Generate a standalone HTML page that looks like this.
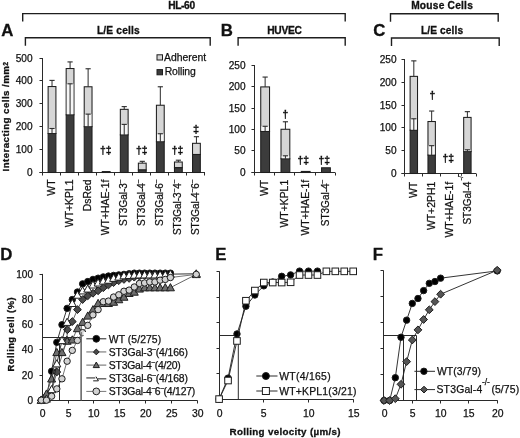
<!DOCTYPE html>
<html><head><meta charset="utf-8"><style>
html,body{margin:0;padding:0;background:#fff;}
svg{display:block;font-family:"Liberation Sans", sans-serif;}
svg{will-change:transform;}
#w{width:520px;height:438px;}
</style></head><body><div id="w">
<svg width="520" height="438" viewBox="0 0 520 438">
<rect width="520" height="438" fill="#fff"/>
<text x="181.65" y="8.50" font-size="10.2" text-anchor="middle" font-weight="bold" fill="#111" stroke="#111" stroke-width="0.3" textLength="26.90" lengthAdjust="spacing">HL-60</text>
<path d="M22.70 21.60 V13.60 H345.20 V21.60" fill="none" stroke="#1e1e1e" stroke-width="1.4"/>
<text x="442.00" y="8.50" font-size="10.2" text-anchor="middle" font-weight="bold" fill="#111" stroke="#111" stroke-width="0.3" textLength="61.70" lengthAdjust="spacing">Mouse Cells</text>
<path d="M390.50 21.70 V13.70 H498.20 V21.70" fill="none" stroke="#1e1e1e" stroke-width="1.4"/>
<text x="118.30" y="34.30" font-size="10.2" text-anchor="middle" font-weight="bold" fill="#111" stroke="#111" stroke-width="0.3" textLength="42.80" lengthAdjust="spacing">L/E cells</text>
<path d="M25.40 45.80 V37.80 H210.20 V45.80" fill="none" stroke="#1e1e1e" stroke-width="1.4"/>
<text x="284.50" y="34.00" font-size="10.2" text-anchor="middle" font-weight="bold" fill="#111" stroke="#111" stroke-width="0.3" textLength="34.60" lengthAdjust="spacing">HUVEC</text>
<path d="M238.10 45.80 V37.80 H345.20 V45.80" fill="none" stroke="#1e1e1e" stroke-width="1.4"/>
<text x="442.00" y="34.40" font-size="10.2" text-anchor="middle" font-weight="bold" fill="#111" stroke="#111" stroke-width="0.3" textLength="42.10" lengthAdjust="spacing">L/E cells</text>
<path d="M391.50 46.00 V38.00 H499.20 V46.00" fill="none" stroke="#1e1e1e" stroke-width="1.4"/>
<text x="1.20" y="35.70" font-size="16.8" text-anchor="start" font-weight="bold" fill="#111" stroke="#111" stroke-width="0.3">A</text>
<text x="220.80" y="35.70" font-size="16.8" text-anchor="start" font-weight="bold" fill="#111" stroke="#111" stroke-width="0.3">B</text>
<text x="373.20" y="35.50" font-size="16.8" text-anchor="start" font-weight="bold" fill="#111" stroke="#111" stroke-width="0.3">C</text>
<text x="0.30" y="259.80" font-size="16.8" text-anchor="start" font-weight="bold" fill="#111" stroke="#111" stroke-width="0.3">D</text>
<text x="215.30" y="259.80" font-size="16.8" text-anchor="start" font-weight="bold" fill="#111" stroke="#111" stroke-width="0.3">E</text>
<text x="372.80" y="259.60" font-size="16.8" text-anchor="start" font-weight="bold" fill="#111" stroke="#111" stroke-width="0.3">F</text>
<line x1="42.50" y1="58.00" x2="42.50" y2="175.50" stroke="#2a2a2a" stroke-width="1"/>
<line x1="39.50" y1="172.50" x2="42.50" y2="172.50" stroke="#2a2a2a" stroke-width="1"/>
<text x="32.60" y="175.80" font-size="10.1" text-anchor="end" font-weight="normal" fill="#111" stroke="#111" stroke-width="0.25">0</text>
<line x1="39.50" y1="149.50" x2="42.50" y2="149.50" stroke="#2a2a2a" stroke-width="1"/>
<text x="32.60" y="152.80" font-size="10.1" text-anchor="end" font-weight="normal" fill="#111" stroke="#111" stroke-width="0.25">100</text>
<line x1="39.50" y1="126.50" x2="42.50" y2="126.50" stroke="#2a2a2a" stroke-width="1"/>
<text x="32.60" y="129.80" font-size="10.1" text-anchor="end" font-weight="normal" fill="#111" stroke="#111" stroke-width="0.25">200</text>
<line x1="39.50" y1="103.50" x2="42.50" y2="103.50" stroke="#2a2a2a" stroke-width="1"/>
<text x="32.60" y="106.80" font-size="10.1" text-anchor="end" font-weight="normal" fill="#111" stroke="#111" stroke-width="0.25">300</text>
<line x1="39.50" y1="80.50" x2="42.50" y2="80.50" stroke="#2a2a2a" stroke-width="1"/>
<text x="32.60" y="83.80" font-size="10.1" text-anchor="end" font-weight="normal" fill="#111" stroke="#111" stroke-width="0.25">400</text>
<line x1="39.50" y1="58.50" x2="42.50" y2="58.50" stroke="#2a2a2a" stroke-width="1"/>
<text x="32.60" y="61.80" font-size="10.1" text-anchor="end" font-weight="normal" fill="#111" stroke="#111" stroke-width="0.25">500</text>
<line x1="39.50" y1="172.50" x2="205.00" y2="172.50" stroke="#2a2a2a" stroke-width="1"/>
<line x1="60.50" y1="172.50" x2="60.50" y2="175.50" stroke="#2a2a2a" stroke-width="1"/>
<line x1="78.50" y1="172.50" x2="78.50" y2="175.50" stroke="#2a2a2a" stroke-width="1"/>
<line x1="96.50" y1="172.50" x2="96.50" y2="175.50" stroke="#2a2a2a" stroke-width="1"/>
<line x1="114.50" y1="172.50" x2="114.50" y2="175.50" stroke="#2a2a2a" stroke-width="1"/>
<line x1="132.50" y1="172.50" x2="132.50" y2="175.50" stroke="#2a2a2a" stroke-width="1"/>
<line x1="150.50" y1="172.50" x2="150.50" y2="175.50" stroke="#2a2a2a" stroke-width="1"/>
<line x1="168.50" y1="172.50" x2="168.50" y2="175.50" stroke="#2a2a2a" stroke-width="1"/>
<line x1="186.50" y1="172.50" x2="186.50" y2="175.50" stroke="#2a2a2a" stroke-width="1"/>
<line x1="204.50" y1="172.50" x2="204.50" y2="175.50" stroke="#2a2a2a" stroke-width="1"/>
<line x1="52.02" y1="80.39" x2="52.02" y2="86.54" stroke="#2a2a2a" stroke-width="1"/>
<line x1="49.42" y1="80.39" x2="54.62" y2="80.39" stroke="#2a2a2a" stroke-width="1.1"/>
<rect x="48.12" y="86.54" width="7.8" height="46.97" fill="#d6d6d6" stroke="#1e1e1e" stroke-width="1.05"/>
<rect x="48.12" y="133.51" width="7.8" height="38.99" fill="#3c3c3c" stroke="#1e1e1e" stroke-width="1.05"/>
<rect x="48.73" y="128.50" width="6.60" height="4.52" fill="#f6f6f6"/>
<line x1="52.02" y1="128.50" x2="52.02" y2="133.51" stroke="#2a2a2a" stroke-width="1"/>
<line x1="49.42" y1="128.50" x2="54.62" y2="128.50" stroke="#2a2a2a" stroke-width="1.1"/>
<line x1="70.08" y1="61.92" x2="70.08" y2="68.53" stroke="#2a2a2a" stroke-width="1"/>
<line x1="67.48" y1="61.92" x2="72.67" y2="61.92" stroke="#2a2a2a" stroke-width="1.1"/>
<rect x="66.17" y="68.53" width="7.8" height="46.28" fill="#d6d6d6" stroke="#1e1e1e" stroke-width="1.05"/>
<rect x="66.17" y="114.82" width="7.8" height="57.68" fill="#3c3c3c" stroke="#1e1e1e" stroke-width="1.05"/>
<rect x="66.77" y="83.81" width="6.60" height="30.51" fill="#f6f6f6"/>
<line x1="70.08" y1="83.81" x2="70.08" y2="114.82" stroke="#2a2a2a" stroke-width="1"/>
<line x1="67.48" y1="83.81" x2="72.67" y2="83.81" stroke="#2a2a2a" stroke-width="1.1"/>
<line x1="88.12" y1="68.76" x2="88.12" y2="86.77" stroke="#2a2a2a" stroke-width="1"/>
<line x1="85.53" y1="68.76" x2="90.72" y2="68.76" stroke="#2a2a2a" stroke-width="1.1"/>
<rect x="84.22" y="86.77" width="7.8" height="39.90" fill="#d6d6d6" stroke="#1e1e1e" stroke-width="1.05"/>
<rect x="84.22" y="126.67" width="7.8" height="45.83" fill="#3c3c3c" stroke="#1e1e1e" stroke-width="1.05"/>
<rect x="84.82" y="114.13" width="6.60" height="12.04" fill="#f6f6f6"/>
<line x1="88.12" y1="114.13" x2="88.12" y2="126.67" stroke="#2a2a2a" stroke-width="1"/>
<line x1="85.53" y1="114.13" x2="90.72" y2="114.13" stroke="#2a2a2a" stroke-width="1.1"/>
<rect x="102.27" y="171.59" width="7.8" height="0.91" fill="#3c3c3c" stroke="#1e1e1e" stroke-width="1.05"/>
<line x1="124.23" y1="106.61" x2="124.23" y2="109.34" stroke="#2a2a2a" stroke-width="1"/>
<line x1="121.63" y1="106.61" x2="126.83" y2="106.61" stroke="#2a2a2a" stroke-width="1.1"/>
<rect x="120.33" y="109.34" width="7.8" height="25.54" fill="#d6d6d6" stroke="#1e1e1e" stroke-width="1.05"/>
<rect x="120.33" y="134.88" width="7.8" height="37.62" fill="#3c3c3c" stroke="#1e1e1e" stroke-width="1.05"/>
<rect x="120.92" y="124.39" width="6.60" height="9.99" fill="#f6f6f6"/>
<line x1="124.23" y1="124.39" x2="124.23" y2="134.88" stroke="#2a2a2a" stroke-width="1"/>
<line x1="121.63" y1="124.39" x2="126.83" y2="124.39" stroke="#2a2a2a" stroke-width="1.1"/>
<line x1="142.27" y1="161.33" x2="142.27" y2="163.15" stroke="#2a2a2a" stroke-width="1"/>
<line x1="139.67" y1="161.33" x2="144.87" y2="161.33" stroke="#2a2a2a" stroke-width="1.1"/>
<rect x="138.37" y="163.15" width="7.8" height="6.84" fill="#d6d6d6" stroke="#1e1e1e" stroke-width="1.05"/>
<rect x="138.37" y="169.99" width="7.8" height="2.51" fill="#3c3c3c" stroke="#1e1e1e" stroke-width="1.05"/>
<line x1="160.32" y1="86.77" x2="160.32" y2="105.24" stroke="#2a2a2a" stroke-width="1"/>
<line x1="157.72" y1="86.77" x2="162.92" y2="86.77" stroke="#2a2a2a" stroke-width="1.1"/>
<rect x="156.42" y="105.24" width="7.8" height="36.48" fill="#d6d6d6" stroke="#1e1e1e" stroke-width="1.05"/>
<rect x="156.42" y="141.72" width="7.8" height="30.78" fill="#3c3c3c" stroke="#1e1e1e" stroke-width="1.05"/>
<rect x="157.02" y="133.74" width="6.60" height="7.48" fill="#f6f6f6"/>
<line x1="160.32" y1="133.74" x2="160.32" y2="141.72" stroke="#2a2a2a" stroke-width="1"/>
<line x1="157.72" y1="133.74" x2="162.92" y2="133.74" stroke="#2a2a2a" stroke-width="1.1"/>
<line x1="178.38" y1="160.19" x2="178.38" y2="162.01" stroke="#2a2a2a" stroke-width="1"/>
<line x1="175.78" y1="160.19" x2="180.97" y2="160.19" stroke="#2a2a2a" stroke-width="1.1"/>
<rect x="174.47" y="162.01" width="7.8" height="5.70" fill="#d6d6d6" stroke="#1e1e1e" stroke-width="1.05"/>
<rect x="174.47" y="167.71" width="7.8" height="4.79" fill="#3c3c3c" stroke="#1e1e1e" stroke-width="1.05"/>
<line x1="196.43" y1="136.70" x2="196.43" y2="143.32" stroke="#2a2a2a" stroke-width="1"/>
<line x1="193.83" y1="136.70" x2="199.03" y2="136.70" stroke="#2a2a2a" stroke-width="1.1"/>
<rect x="192.53" y="143.32" width="7.8" height="11.17" fill="#d6d6d6" stroke="#1e1e1e" stroke-width="1.05"/>
<rect x="192.53" y="154.49" width="7.8" height="18.01" fill="#3c3c3c" stroke="#1e1e1e" stroke-width="1.05"/>
<text x="54.82" y="179.50" font-size="10.4" text-anchor="end" font-weight="normal" fill="#111" stroke="#111" stroke-width="0.25" transform="rotate(-90 54.82 179.50)">WT</text>
<text x="72.88" y="179.50" font-size="10.4" text-anchor="end" font-weight="normal" fill="#111" stroke="#111" stroke-width="0.25" transform="rotate(-90 72.88 179.50)">WT+KPL1</text>
<text x="90.92" y="179.50" font-size="10.4" text-anchor="end" font-weight="normal" fill="#111" stroke="#111" stroke-width="0.25" transform="rotate(-90 90.92 179.50)">DsRed</text>
<text x="108.97" y="179.50" font-size="10.4" text-anchor="end" font-weight="normal" fill="#111" stroke="#111" stroke-width="0.25" transform="rotate(-90 108.97 179.50)">WT+HAE-1f</text>
<text x="127.03" y="179.50" font-size="10.0" text-anchor="end" font-weight="normal" fill="#111" stroke="#111" stroke-width="0.25" transform="rotate(-90 127.03 179.50)">ST3Gal-3<tspan font-size="6.5" dy="-4.8">&#8211;</tspan><tspan dy="4.8">&#8203;</tspan></text>
<text x="145.07" y="179.50" font-size="10.0" text-anchor="end" font-weight="normal" fill="#111" stroke="#111" stroke-width="0.25" transform="rotate(-90 145.07 179.50)">ST3Gal-4<tspan font-size="6.5" dy="-4.8">&#8211;</tspan><tspan dy="4.8">&#8203;</tspan></text>
<text x="163.12" y="179.50" font-size="10.0" text-anchor="end" font-weight="normal" fill="#111" stroke="#111" stroke-width="0.25" transform="rotate(-90 163.12 179.50)">ST3Gal-6<tspan font-size="6.5" dy="-4.8">&#8211;</tspan><tspan dy="4.8">&#8203;</tspan></text>
<text x="181.18" y="179.50" font-size="10.0" text-anchor="end" font-weight="normal" fill="#111" stroke="#111" stroke-width="0.25" transform="rotate(-90 181.18 179.50)">ST3Gal-3<tspan font-size="6.5" dy="-4.8">&#8211;</tspan><tspan dy="4.8">&#8203;</tspan>4<tspan font-size="6.5" dy="-4.8">&#8211;</tspan><tspan dy="4.8">&#8203;</tspan></text>
<text x="199.23" y="179.50" font-size="10.0" text-anchor="end" font-weight="normal" fill="#111" stroke="#111" stroke-width="0.25" transform="rotate(-90 199.23 179.50)">ST3Gal-4<tspan font-size="6.5" dy="-4.8">&#8211;</tspan><tspan dy="4.8">&#8203;</tspan>6<tspan font-size="6.5" dy="-4.8">&#8211;</tspan><tspan dy="4.8">&#8203;</tspan></text>
<text x="9.30" y="116.70" font-size="9.7" text-anchor="middle" font-weight="bold" fill="#111" stroke="#111" stroke-width="0.3" transform="rotate(-90 9.30 116.70)" textLength="109.50" lengthAdjust="spacing">Interacting cells /mm<tspan font-size="6.8" dy="-1.6">2</tspan></text>
<rect x="157" y="54.8" width="5.5" height="5.2" fill="#d6d6d6" stroke="#1e1e1e" stroke-width="1"/>
<text x="164.10" y="60.80" font-size="10.4" text-anchor="start" font-weight="normal" fill="#111" stroke="#111" stroke-width="0.25" textLength="42.10" lengthAdjust="spacing">Adherent</text>
<rect x="157" y="69.6" width="5.5" height="5.2" fill="#3c3c3c" stroke="#1e1e1e" stroke-width="1"/>
<text x="164.70" y="74.90" font-size="10.4" text-anchor="start" font-weight="normal" fill="#111" stroke="#111" stroke-width="0.25" textLength="31.10" lengthAdjust="spacing">Rolling</text>
<text x="105.80" y="153.80" font-size="10.4" text-anchor="middle" font-weight="bold" fill="#111" stroke="#111" stroke-width="0.3">&#8224;&#8225;</text>
<text x="141.80" y="153.80" font-size="10.4" text-anchor="middle" font-weight="bold" fill="#111" stroke="#111" stroke-width="0.3">&#8224;&#8225;</text>
<text x="177.60" y="153.80" font-size="10.4" text-anchor="middle" font-weight="bold" fill="#111" stroke="#111" stroke-width="0.3">&#8224;&#8225;</text>
<text x="196.10" y="132.60" font-size="11" text-anchor="middle" font-weight="bold" fill="#111" stroke="#111" stroke-width="0.3">&#8225;</text>
<line x1="254.50" y1="65.00" x2="254.50" y2="175.50" stroke="#2a2a2a" stroke-width="1"/>
<line x1="251.50" y1="172.50" x2="254.50" y2="172.50" stroke="#2a2a2a" stroke-width="1"/>
<text x="245.60" y="175.80" font-size="10.1" text-anchor="end" font-weight="normal" fill="#111" stroke="#111" stroke-width="0.25">0</text>
<line x1="251.50" y1="150.50" x2="254.50" y2="150.50" stroke="#2a2a2a" stroke-width="1"/>
<text x="245.60" y="153.80" font-size="10.1" text-anchor="end" font-weight="normal" fill="#111" stroke="#111" stroke-width="0.25">50</text>
<line x1="251.50" y1="129.50" x2="254.50" y2="129.50" stroke="#2a2a2a" stroke-width="1"/>
<text x="245.60" y="132.80" font-size="10.1" text-anchor="end" font-weight="normal" fill="#111" stroke="#111" stroke-width="0.25">100</text>
<line x1="251.50" y1="108.50" x2="254.50" y2="108.50" stroke="#2a2a2a" stroke-width="1"/>
<text x="245.60" y="111.80" font-size="10.1" text-anchor="end" font-weight="normal" fill="#111" stroke="#111" stroke-width="0.25">150</text>
<line x1="251.50" y1="86.50" x2="254.50" y2="86.50" stroke="#2a2a2a" stroke-width="1"/>
<text x="245.60" y="89.80" font-size="10.1" text-anchor="end" font-weight="normal" fill="#111" stroke="#111" stroke-width="0.25">200</text>
<line x1="251.50" y1="65.50" x2="254.50" y2="65.50" stroke="#2a2a2a" stroke-width="1"/>
<text x="245.60" y="68.80" font-size="10.1" text-anchor="end" font-weight="normal" fill="#111" stroke="#111" stroke-width="0.25">250</text>
<line x1="251.50" y1="172.50" x2="335.00" y2="172.50" stroke="#2a2a2a" stroke-width="1"/>
<line x1="274.50" y1="172.50" x2="274.50" y2="175.50" stroke="#2a2a2a" stroke-width="1"/>
<line x1="294.50" y1="172.50" x2="294.50" y2="175.50" stroke="#2a2a2a" stroke-width="1"/>
<line x1="315.50" y1="172.50" x2="315.50" y2="175.50" stroke="#2a2a2a" stroke-width="1"/>
<line x1="335.50" y1="172.50" x2="335.50" y2="175.50" stroke="#2a2a2a" stroke-width="1"/>
<line x1="265.14" y1="77.06" x2="265.14" y2="86.90" stroke="#2a2a2a" stroke-width="1"/>
<line x1="262.54" y1="77.06" x2="267.74" y2="77.06" stroke="#2a2a2a" stroke-width="1.1"/>
<rect x="260.74" y="86.90" width="8.8" height="44.51" fill="#d6d6d6" stroke="#1e1e1e" stroke-width="1.05"/>
<rect x="260.74" y="131.41" width="8.8" height="41.09" fill="#3c3c3c" stroke="#1e1e1e" stroke-width="1.05"/>
<rect x="261.34" y="126.28" width="7.60" height="4.64" fill="#f6f6f6"/>
<line x1="265.14" y1="126.28" x2="265.14" y2="131.41" stroke="#2a2a2a" stroke-width="1"/>
<line x1="262.54" y1="126.28" x2="267.74" y2="126.28" stroke="#2a2a2a" stroke-width="1.1"/>
<line x1="285.41" y1="121.78" x2="285.41" y2="129.27" stroke="#2a2a2a" stroke-width="1"/>
<line x1="282.81" y1="121.78" x2="288.01" y2="121.78" stroke="#2a2a2a" stroke-width="1.1"/>
<rect x="281.01" y="129.27" width="8.8" height="29.53" fill="#d6d6d6" stroke="#1e1e1e" stroke-width="1.05"/>
<rect x="281.01" y="158.80" width="8.8" height="13.70" fill="#3c3c3c" stroke="#1e1e1e" stroke-width="1.05"/>
<rect x="281.61" y="155.81" width="7.60" height="2.50" fill="#f6f6f6"/>
<line x1="285.41" y1="155.81" x2="285.41" y2="158.80" stroke="#2a2a2a" stroke-width="1"/>
<line x1="282.81" y1="155.81" x2="288.01" y2="155.81" stroke="#2a2a2a" stroke-width="1.1"/>
<rect x="301.28" y="171.43" width="8.8" height="1.07" fill="#3c3c3c" stroke="#1e1e1e" stroke-width="1.05"/>
<rect x="321.55" y="167.79" width="8.8" height="4.71" fill="#3c3c3c" stroke="#1e1e1e" stroke-width="1.05"/>
<text x="268.04" y="179.80" font-size="10.4" text-anchor="end" font-weight="normal" fill="#111" stroke="#111" stroke-width="0.25" transform="rotate(-90 268.04 179.80)">WT</text>
<text x="288.31" y="179.80" font-size="10.4" text-anchor="end" font-weight="normal" fill="#111" stroke="#111" stroke-width="0.25" transform="rotate(-90 288.31 179.80)">WT+KPL1</text>
<text x="308.57" y="179.80" font-size="10.4" text-anchor="end" font-weight="normal" fill="#111" stroke="#111" stroke-width="0.25" transform="rotate(-90 308.57 179.80)">WT+HAE-1f</text>
<text x="328.85" y="179.80" font-size="10.0" text-anchor="end" font-weight="normal" fill="#111" stroke="#111" stroke-width="0.25" transform="rotate(-90 328.85 179.80)">ST3Gal-4<tspan font-size="6.5" dy="-4.8">&#8211;</tspan><tspan dy="4.8">&#8203;</tspan></text>
<text x="285.50" y="117.60" font-size="10.4" text-anchor="middle" font-weight="bold" fill="#111" stroke="#111" stroke-width="0.3">&#8224;</text>
<text x="303.20" y="163.60" font-size="10.4" text-anchor="middle" font-weight="bold" fill="#111" stroke="#111" stroke-width="0.3">&#8224;&#8225;</text>
<text x="324.20" y="163.60" font-size="10.4" text-anchor="middle" font-weight="bold" fill="#111" stroke="#111" stroke-width="0.3">&#8224;&#8225;</text>
<line x1="404.50" y1="59.00" x2="404.50" y2="176.50" stroke="#2a2a2a" stroke-width="1"/>
<line x1="401.50" y1="173.50" x2="404.50" y2="173.50" stroke="#2a2a2a" stroke-width="1"/>
<text x="396.60" y="176.80" font-size="10.1" text-anchor="end" font-weight="normal" fill="#111" stroke="#111" stroke-width="0.25">0</text>
<line x1="401.50" y1="150.50" x2="404.50" y2="150.50" stroke="#2a2a2a" stroke-width="1"/>
<text x="396.60" y="153.80" font-size="10.1" text-anchor="end" font-weight="normal" fill="#111" stroke="#111" stroke-width="0.25">50</text>
<line x1="401.50" y1="127.50" x2="404.50" y2="127.50" stroke="#2a2a2a" stroke-width="1"/>
<text x="396.60" y="130.80" font-size="10.1" text-anchor="end" font-weight="normal" fill="#111" stroke="#111" stroke-width="0.25">100</text>
<line x1="401.50" y1="105.50" x2="404.50" y2="105.50" stroke="#2a2a2a" stroke-width="1"/>
<text x="396.60" y="108.80" font-size="10.1" text-anchor="end" font-weight="normal" fill="#111" stroke="#111" stroke-width="0.25">150</text>
<line x1="401.50" y1="82.50" x2="404.50" y2="82.50" stroke="#2a2a2a" stroke-width="1"/>
<text x="396.60" y="85.80" font-size="10.1" text-anchor="end" font-weight="normal" fill="#111" stroke="#111" stroke-width="0.25">200</text>
<line x1="401.50" y1="59.50" x2="404.50" y2="59.50" stroke="#2a2a2a" stroke-width="1"/>
<text x="396.60" y="62.80" font-size="10.1" text-anchor="end" font-weight="normal" fill="#111" stroke="#111" stroke-width="0.25">250</text>
<line x1="401.50" y1="173.50" x2="476.00" y2="173.50" stroke="#2a2a2a" stroke-width="1"/>
<line x1="422.50" y1="173.50" x2="422.50" y2="176.50" stroke="#2a2a2a" stroke-width="1"/>
<line x1="440.50" y1="173.50" x2="440.50" y2="176.50" stroke="#2a2a2a" stroke-width="1"/>
<line x1="458.50" y1="173.50" x2="458.50" y2="176.50" stroke="#2a2a2a" stroke-width="1"/>
<line x1="476.50" y1="173.50" x2="476.50" y2="176.50" stroke="#2a2a2a" stroke-width="1"/>
<line x1="413.82" y1="60.87" x2="413.82" y2="76.37" stroke="#2a2a2a" stroke-width="1"/>
<line x1="411.22" y1="60.87" x2="416.43" y2="60.87" stroke="#2a2a2a" stroke-width="1.1"/>
<rect x="410.12" y="76.37" width="7.4" height="53.81" fill="#d6d6d6" stroke="#1e1e1e" stroke-width="1.05"/>
<rect x="410.12" y="130.18" width="7.4" height="43.32" fill="#3c3c3c" stroke="#1e1e1e" stroke-width="1.05"/>
<rect x="410.73" y="118.78" width="6.20" height="10.90" fill="#f6f6f6"/>
<line x1="413.82" y1="118.78" x2="413.82" y2="130.18" stroke="#2a2a2a" stroke-width="1"/>
<line x1="411.22" y1="118.78" x2="416.43" y2="118.78" stroke="#2a2a2a" stroke-width="1.1"/>
<line x1="431.67" y1="111.03" x2="431.67" y2="121.52" stroke="#2a2a2a" stroke-width="1"/>
<line x1="429.07" y1="111.03" x2="434.27" y2="111.03" stroke="#2a2a2a" stroke-width="1.1"/>
<rect x="427.97" y="121.52" width="7.4" height="33.56" fill="#d6d6d6" stroke="#1e1e1e" stroke-width="1.05"/>
<rect x="427.97" y="155.08" width="7.4" height="18.42" fill="#3c3c3c" stroke="#1e1e1e" stroke-width="1.05"/>
<rect x="428.57" y="145.68" width="6.20" height="8.89" fill="#f6f6f6"/>
<line x1="431.67" y1="145.68" x2="431.67" y2="155.08" stroke="#2a2a2a" stroke-width="1"/>
<line x1="429.07" y1="145.68" x2="434.27" y2="145.68" stroke="#2a2a2a" stroke-width="1.1"/>
<line x1="467.38" y1="111.67" x2="467.38" y2="117.41" stroke="#2a2a2a" stroke-width="1"/>
<line x1="464.77" y1="111.67" x2="469.98" y2="111.67" stroke="#2a2a2a" stroke-width="1.1"/>
<rect x="463.68" y="117.41" width="7.4" height="34.20" fill="#d6d6d6" stroke="#1e1e1e" stroke-width="1.05"/>
<rect x="463.68" y="151.61" width="7.4" height="21.89" fill="#3c3c3c" stroke="#1e1e1e" stroke-width="1.05"/>
<rect x="464.28" y="149.79" width="6.20" height="1.32" fill="#f6f6f6"/>
<line x1="467.38" y1="149.79" x2="467.38" y2="151.61" stroke="#2a2a2a" stroke-width="1"/>
<line x1="464.77" y1="149.79" x2="469.98" y2="149.79" stroke="#2a2a2a" stroke-width="1.1"/>
<text x="417.32" y="181.80" font-size="10.4" text-anchor="end" font-weight="normal" fill="#111" stroke="#111" stroke-width="0.25" transform="rotate(-90 417.32 181.80)">WT</text>
<text x="435.17" y="181.80" font-size="10.4" text-anchor="end" font-weight="normal" fill="#111" stroke="#111" stroke-width="0.25" transform="rotate(-90 435.17 181.80)">WT+2PH1</text>
<text x="453.02" y="181.80" font-size="10.4" text-anchor="end" font-weight="normal" fill="#111" stroke="#111" stroke-width="0.25" transform="rotate(-90 453.02 181.80)">WT+HAE-1f</text>
<text x="470.88" y="181.80" font-size="10.0" text-anchor="end" font-weight="normal" fill="#111" stroke="#111" stroke-width="0.25" transform="rotate(-90 470.88 181.80)">ST3Gal-4</text>
<text x="432.50" y="98.80" font-size="10.4" text-anchor="middle" font-weight="bold" fill="#111" stroke="#111" stroke-width="0.3">&#8224;</text>
<text x="448.20" y="162.40" font-size="10.4" text-anchor="middle" font-weight="bold" fill="#111" stroke="#111" stroke-width="0.3">&#8224;&#8225;</text>
<text x="462.60" y="180.60" font-size="7.5" text-anchor="start" font-weight="normal" fill="#111" stroke="#111" stroke-width="0.25" transform="rotate(-90 462.60 180.60)">-/-</text>
<line x1="42.50" y1="273.90" x2="42.50" y2="400.50" stroke="#2a2a2a" stroke-width="1"/>
<line x1="39.50" y1="400.50" x2="42.50" y2="400.50" stroke="#2a2a2a" stroke-width="1"/>
<text x="33.00" y="403.80" font-size="10.1" text-anchor="end" font-weight="normal" fill="#111" stroke="#111" stroke-width="0.25">0</text>
<line x1="39.50" y1="375.50" x2="42.50" y2="375.50" stroke="#2a2a2a" stroke-width="1"/>
<text x="33.00" y="378.64" font-size="10.1" text-anchor="end" font-weight="normal" fill="#111" stroke="#111" stroke-width="0.25">20</text>
<line x1="39.50" y1="349.50" x2="42.50" y2="349.50" stroke="#2a2a2a" stroke-width="1"/>
<text x="33.00" y="353.48" font-size="10.1" text-anchor="end" font-weight="normal" fill="#111" stroke="#111" stroke-width="0.25">40</text>
<line x1="39.50" y1="324.50" x2="42.50" y2="324.50" stroke="#2a2a2a" stroke-width="1"/>
<text x="33.00" y="328.32" font-size="10.1" text-anchor="end" font-weight="normal" fill="#111" stroke="#111" stroke-width="0.25">60</text>
<line x1="39.50" y1="299.50" x2="42.50" y2="299.50" stroke="#2a2a2a" stroke-width="1"/>
<text x="33.00" y="303.16" font-size="10.1" text-anchor="end" font-weight="normal" fill="#111" stroke="#111" stroke-width="0.25">80</text>
<line x1="39.50" y1="274.50" x2="42.50" y2="274.50" stroke="#2a2a2a" stroke-width="1"/>
<text x="33.00" y="278.00" font-size="10.1" text-anchor="end" font-weight="normal" fill="#111" stroke="#111" stroke-width="0.25">100</text>
<line x1="39.50" y1="400.50" x2="197.50" y2="400.50" stroke="#2a2a2a" stroke-width="1"/>
<line x1="42.50" y1="400.50" x2="42.50" y2="403.50" stroke="#2a2a2a" stroke-width="1"/>
<text x="42.70" y="416.80" font-size="10.4" text-anchor="middle" font-weight="normal" fill="#111" stroke="#111" stroke-width="0.25">0</text>
<line x1="68.50" y1="400.50" x2="68.50" y2="403.50" stroke="#2a2a2a" stroke-width="1"/>
<text x="68.70" y="416.80" font-size="10.4" text-anchor="middle" font-weight="normal" fill="#111" stroke="#111" stroke-width="0.25">5</text>
<line x1="93.50" y1="400.50" x2="93.50" y2="403.50" stroke="#2a2a2a" stroke-width="1"/>
<text x="93.70" y="416.80" font-size="10.4" text-anchor="middle" font-weight="normal" fill="#111" stroke="#111" stroke-width="0.25">10</text>
<line x1="119.50" y1="400.50" x2="119.50" y2="403.50" stroke="#2a2a2a" stroke-width="1"/>
<text x="119.70" y="416.80" font-size="10.4" text-anchor="middle" font-weight="normal" fill="#111" stroke="#111" stroke-width="0.25">15</text>
<line x1="145.50" y1="400.50" x2="145.50" y2="403.50" stroke="#2a2a2a" stroke-width="1"/>
<text x="145.70" y="416.80" font-size="10.4" text-anchor="middle" font-weight="normal" fill="#111" stroke="#111" stroke-width="0.25">20</text>
<line x1="171.50" y1="400.50" x2="171.50" y2="403.50" stroke="#2a2a2a" stroke-width="1"/>
<text x="171.70" y="416.80" font-size="10.4" text-anchor="middle" font-weight="normal" fill="#111" stroke="#111" stroke-width="0.25">25</text>
<line x1="197.50" y1="400.50" x2="197.50" y2="403.50" stroke="#2a2a2a" stroke-width="1"/>
<text x="197.70" y="416.80" font-size="10.4" text-anchor="middle" font-weight="normal" fill="#111" stroke="#111" stroke-width="0.25">30</text>
<text x="13.90" y="334.40" font-size="9.4" text-anchor="middle" font-weight="bold" fill="#111" stroke="#111" stroke-width="0.3" transform="rotate(-90 13.90 334.40)" textLength="74.00" lengthAdjust="spacing">Rolling cell (%)</text>
<line x1="42.30" y1="337.50" x2="81.50" y2="337.50" stroke="#2a2a2a" stroke-width="1"/>
<line x1="59.50" y1="337.50" x2="59.50" y2="400.20" stroke="#2a2a2a" stroke-width="1"/>
<line x1="81.20" y1="325.00" x2="81.20" y2="400.20" stroke="#707070" stroke-width="1.3"/>
<path d="M41.30 400.20 L46.46 396.43 L51.63 371.27 L56.80 342.33 L61.96 324.72 L67.12 308.37 L72.29 299.56 L77.45 292.01 L82.62 283.83 L87.78 281.57 L92.95 279.43 L98.11 278.17 L103.28 276.92 L108.44 276.04 L113.61 275.41 L118.77 274.90 L123.94 274.40 L129.11 273.77 L134.27 273.14 L139.44 273.14 L144.60 273.14 L149.76 273.14 L154.93 273.14 L160.09 273.14 L165.26 273.14 L170.43 273.14" fill="none" stroke="#1e1e1e" stroke-width="0.9"/>
<circle cx="41.30" cy="400.20" r="3.2" fill="#000000" stroke="#1e1e1e" stroke-width="1.0"/>
<circle cx="46.46" cy="396.43" r="3.2" fill="#000000" stroke="#1e1e1e" stroke-width="1.0"/>
<circle cx="51.63" cy="371.27" r="3.2" fill="#000000" stroke="#1e1e1e" stroke-width="1.0"/>
<circle cx="56.80" cy="342.33" r="3.2" fill="#000000" stroke="#1e1e1e" stroke-width="1.0"/>
<circle cx="61.96" cy="324.72" r="3.2" fill="#000000" stroke="#1e1e1e" stroke-width="1.0"/>
<circle cx="67.12" cy="308.37" r="3.2" fill="#000000" stroke="#1e1e1e" stroke-width="1.0"/>
<circle cx="72.29" cy="299.56" r="3.2" fill="#000000" stroke="#1e1e1e" stroke-width="1.0"/>
<circle cx="77.45" cy="292.01" r="3.2" fill="#000000" stroke="#1e1e1e" stroke-width="1.0"/>
<circle cx="82.62" cy="283.83" r="3.2" fill="#000000" stroke="#1e1e1e" stroke-width="1.0"/>
<circle cx="87.78" cy="281.57" r="3.2" fill="#000000" stroke="#1e1e1e" stroke-width="1.0"/>
<circle cx="92.95" cy="279.43" r="3.2" fill="#000000" stroke="#1e1e1e" stroke-width="1.0"/>
<circle cx="98.11" cy="278.17" r="3.2" fill="#000000" stroke="#1e1e1e" stroke-width="1.0"/>
<circle cx="103.28" cy="276.92" r="3.2" fill="#000000" stroke="#1e1e1e" stroke-width="1.0"/>
<circle cx="108.44" cy="276.04" r="3.2" fill="#000000" stroke="#1e1e1e" stroke-width="1.0"/>
<circle cx="113.61" cy="275.41" r="3.2" fill="#000000" stroke="#1e1e1e" stroke-width="1.0"/>
<circle cx="118.77" cy="274.90" r="3.2" fill="#000000" stroke="#1e1e1e" stroke-width="1.0"/>
<circle cx="123.94" cy="274.40" r="3.2" fill="#000000" stroke="#1e1e1e" stroke-width="1.0"/>
<circle cx="129.11" cy="273.77" r="3.2" fill="#000000" stroke="#1e1e1e" stroke-width="1.0"/>
<circle cx="134.27" cy="273.14" r="3.2" fill="#000000" stroke="#1e1e1e" stroke-width="1.0"/>
<circle cx="139.44" cy="273.14" r="3.2" fill="#000000" stroke="#1e1e1e" stroke-width="1.0"/>
<circle cx="144.60" cy="273.14" r="3.2" fill="#000000" stroke="#1e1e1e" stroke-width="1.0"/>
<circle cx="149.76" cy="273.14" r="3.2" fill="#000000" stroke="#1e1e1e" stroke-width="1.0"/>
<circle cx="154.93" cy="273.14" r="3.2" fill="#000000" stroke="#1e1e1e" stroke-width="1.0"/>
<circle cx="160.09" cy="273.14" r="3.2" fill="#000000" stroke="#1e1e1e" stroke-width="1.0"/>
<circle cx="165.26" cy="273.14" r="3.2" fill="#000000" stroke="#1e1e1e" stroke-width="1.0"/>
<circle cx="170.43" cy="273.14" r="3.2" fill="#000000" stroke="#1e1e1e" stroke-width="1.0"/>
<path d="M41.30 400.20 L46.46 398.31 L51.63 391.39 L56.80 372.02 L66.87 340.19 L67.38 329.75 L72.29 321.57 L77.45 309.62 L82.62 299.56 L87.78 295.79 L92.95 293.27 L98.11 290.75 L103.28 287.73 L108.44 284.97 L113.61 282.58 L118.77 280.69 L123.94 279.43 L129.11 278.43 L134.27 277.17 L139.44 276.16 L144.60 275.41 L149.76 274.90 L154.93 274.40" fill="none" stroke="#555" stroke-width="0.9"/>
<path d="M41.30 396.30 L45.20 400.20 L41.30 404.10 L37.40 400.20Z" fill="#4a4a4a" stroke="#1e1e1e" stroke-width="1.0"/>
<path d="M46.46 394.41 L50.36 398.31 L46.46 402.21 L42.56 398.31Z" fill="#4a4a4a" stroke="#1e1e1e" stroke-width="1.0"/>
<path d="M51.63 387.49 L55.53 391.39 L51.63 395.29 L47.73 391.39Z" fill="#4a4a4a" stroke="#1e1e1e" stroke-width="1.0"/>
<path d="M56.80 368.12 L60.70 372.02 L56.80 375.92 L52.90 372.02Z" fill="#4a4a4a" stroke="#1e1e1e" stroke-width="1.0"/>
<path d="M66.87 336.29 L70.77 340.19 L66.87 344.09 L62.97 340.19Z" fill="#4a4a4a" stroke="#1e1e1e" stroke-width="1.0"/>
<path d="M67.38 325.85 L71.28 329.75 L67.38 333.65 L63.48 329.75Z" fill="#4a4a4a" stroke="#1e1e1e" stroke-width="1.0"/>
<path d="M72.29 317.68 L76.19 321.57 L72.29 325.47 L68.39 321.57Z" fill="#4a4a4a" stroke="#1e1e1e" stroke-width="1.0"/>
<path d="M77.45 305.72 L81.36 309.62 L77.45 313.52 L73.55 309.62Z" fill="#4a4a4a" stroke="#1e1e1e" stroke-width="1.0"/>
<path d="M82.62 295.66 L86.52 299.56 L82.62 303.46 L78.72 299.56Z" fill="#4a4a4a" stroke="#1e1e1e" stroke-width="1.0"/>
<path d="M87.78 291.89 L91.69 295.79 L87.78 299.69 L83.88 295.79Z" fill="#4a4a4a" stroke="#1e1e1e" stroke-width="1.0"/>
<path d="M92.95 289.37 L96.85 293.27 L92.95 297.17 L89.05 293.27Z" fill="#4a4a4a" stroke="#1e1e1e" stroke-width="1.0"/>
<path d="M98.11 286.85 L102.02 290.75 L98.11 294.65 L94.21 290.75Z" fill="#4a4a4a" stroke="#1e1e1e" stroke-width="1.0"/>
<path d="M103.28 283.83 L107.18 287.73 L103.28 291.63 L99.38 287.73Z" fill="#4a4a4a" stroke="#1e1e1e" stroke-width="1.0"/>
<path d="M108.44 281.07 L112.34 284.97 L108.44 288.87 L104.54 284.97Z" fill="#4a4a4a" stroke="#1e1e1e" stroke-width="1.0"/>
<path d="M113.61 278.68 L117.51 282.58 L113.61 286.48 L109.71 282.58Z" fill="#4a4a4a" stroke="#1e1e1e" stroke-width="1.0"/>
<path d="M118.77 276.79 L122.67 280.69 L118.77 284.59 L114.87 280.69Z" fill="#4a4a4a" stroke="#1e1e1e" stroke-width="1.0"/>
<path d="M123.94 275.53 L127.84 279.43 L123.94 283.33 L120.04 279.43Z" fill="#4a4a4a" stroke="#1e1e1e" stroke-width="1.0"/>
<path d="M129.11 274.53 L133.01 278.43 L129.11 282.33 L125.21 278.43Z" fill="#4a4a4a" stroke="#1e1e1e" stroke-width="1.0"/>
<path d="M134.27 273.27 L138.17 277.17 L134.27 281.07 L130.37 277.17Z" fill="#4a4a4a" stroke="#1e1e1e" stroke-width="1.0"/>
<path d="M139.44 272.26 L143.34 276.16 L139.44 280.06 L135.53 276.16Z" fill="#4a4a4a" stroke="#1e1e1e" stroke-width="1.0"/>
<path d="M144.60 271.51 L148.50 275.41 L144.60 279.31 L140.70 275.41Z" fill="#4a4a4a" stroke="#1e1e1e" stroke-width="1.0"/>
<path d="M149.76 271.00 L153.66 274.90 L149.76 278.80 L145.86 274.90Z" fill="#4a4a4a" stroke="#1e1e1e" stroke-width="1.0"/>
<path d="M154.93 270.50 L158.83 274.40 L154.93 278.30 L151.03 274.40Z" fill="#4a4a4a" stroke="#1e1e1e" stroke-width="1.0"/>
<path d="M41.30 400.20 L46.46 393.91 L51.63 378.81 L56.80 352.40 L61.96 352.40 L67.12 341.07 L72.29 339.82 L77.45 328.49 L82.62 322.20 L87.78 315.91 L92.95 309.62 L98.11 303.33 L103.28 303.33 L108.44 303.33 L113.61 302.08 L118.77 299.56 L123.94 297.04 L129.11 293.27 L134.27 292.01 L139.44 288.87 L144.60 287.61 L149.76 287.61 L154.93 287.61 L160.09 287.61 L165.26 287.61 L170.43 287.61 L196.25 274.40" fill="none" stroke="#555" stroke-width="0.9"/>
<path d="M41.30 396.20 L45.30 403.40 L37.30 403.40Z" fill="#6e6e6e" stroke="#1e1e1e" stroke-width="1.0"/>
<path d="M46.46 389.91 L50.46 397.11 L42.46 397.11Z" fill="#6e6e6e" stroke="#1e1e1e" stroke-width="1.0"/>
<path d="M51.63 374.81 L55.63 382.01 L47.63 382.01Z" fill="#6e6e6e" stroke="#1e1e1e" stroke-width="1.0"/>
<path d="M56.80 348.40 L60.80 355.60 L52.80 355.60Z" fill="#6e6e6e" stroke="#1e1e1e" stroke-width="1.0"/>
<path d="M61.96 348.40 L65.96 355.60 L57.96 355.60Z" fill="#6e6e6e" stroke="#1e1e1e" stroke-width="1.0"/>
<path d="M67.12 337.07 L71.12 344.27 L63.12 344.27Z" fill="#6e6e6e" stroke="#1e1e1e" stroke-width="1.0"/>
<path d="M72.29 335.82 L76.29 343.02 L68.29 343.02Z" fill="#6e6e6e" stroke="#1e1e1e" stroke-width="1.0"/>
<path d="M77.45 324.49 L81.45 331.69 L73.45 331.69Z" fill="#6e6e6e" stroke="#1e1e1e" stroke-width="1.0"/>
<path d="M82.62 318.20 L86.62 325.40 L78.62 325.40Z" fill="#6e6e6e" stroke="#1e1e1e" stroke-width="1.0"/>
<path d="M87.78 311.91 L91.78 319.11 L83.78 319.11Z" fill="#6e6e6e" stroke="#1e1e1e" stroke-width="1.0"/>
<path d="M92.95 305.62 L96.95 312.82 L88.95 312.82Z" fill="#6e6e6e" stroke="#1e1e1e" stroke-width="1.0"/>
<path d="M98.11 299.33 L102.11 306.53 L94.11 306.53Z" fill="#6e6e6e" stroke="#1e1e1e" stroke-width="1.0"/>
<path d="M103.28 299.33 L107.28 306.53 L99.28 306.53Z" fill="#6e6e6e" stroke="#1e1e1e" stroke-width="1.0"/>
<path d="M108.44 299.33 L112.44 306.53 L104.44 306.53Z" fill="#6e6e6e" stroke="#1e1e1e" stroke-width="1.0"/>
<path d="M113.61 298.08 L117.61 305.28 L109.61 305.28Z" fill="#6e6e6e" stroke="#1e1e1e" stroke-width="1.0"/>
<path d="M118.77 295.56 L122.77 302.76 L114.77 302.76Z" fill="#6e6e6e" stroke="#1e1e1e" stroke-width="1.0"/>
<path d="M123.94 293.04 L127.94 300.24 L119.94 300.24Z" fill="#6e6e6e" stroke="#1e1e1e" stroke-width="1.0"/>
<path d="M129.11 289.27 L133.11 296.47 L125.11 296.47Z" fill="#6e6e6e" stroke="#1e1e1e" stroke-width="1.0"/>
<path d="M134.27 288.01 L138.27 295.21 L130.27 295.21Z" fill="#6e6e6e" stroke="#1e1e1e" stroke-width="1.0"/>
<path d="M139.44 284.87 L143.44 292.07 L135.44 292.07Z" fill="#6e6e6e" stroke="#1e1e1e" stroke-width="1.0"/>
<path d="M144.60 283.61 L148.60 290.81 L140.60 290.81Z" fill="#6e6e6e" stroke="#1e1e1e" stroke-width="1.0"/>
<path d="M149.76 283.61 L153.76 290.81 L145.76 290.81Z" fill="#6e6e6e" stroke="#1e1e1e" stroke-width="1.0"/>
<path d="M154.93 283.61 L158.93 290.81 L150.93 290.81Z" fill="#6e6e6e" stroke="#1e1e1e" stroke-width="1.0"/>
<path d="M160.09 283.61 L164.09 290.81 L156.09 290.81Z" fill="#6e6e6e" stroke="#1e1e1e" stroke-width="1.0"/>
<path d="M165.26 283.61 L169.26 290.81 L161.26 290.81Z" fill="#6e6e6e" stroke="#1e1e1e" stroke-width="1.0"/>
<path d="M170.43 283.61 L174.43 290.81 L166.43 290.81Z" fill="#6e6e6e" stroke="#1e1e1e" stroke-width="1.0"/>
<path d="M196.25 270.40 L200.25 277.60 L192.25 277.60Z" fill="#6e6e6e" stroke="#1e1e1e" stroke-width="1.0"/>
<path d="M41.30 400.20 L46.46 398.94 L51.63 389.51 L56.80 363.72 L61.96 340.44 L67.12 322.20 L72.29 303.33 L77.45 295.03 L82.62 290.75 L87.78 288.87 L92.95 284.84 L98.11 282.83 L103.28 280.94 L108.44 280.06 L113.61 278.17 L118.77 276.92 L123.94 275.66 L129.11 275.28 L134.27 275.03 L139.44 274.78 L144.60 274.78 L149.76 274.78 L154.93 274.78 L160.09 274.78 L165.26 274.78 L170.43 274.15 L196.25 273.77" fill="none" stroke="#1e1e1e" stroke-width="0.9"/>
<path d="M41.30 396.20 L45.30 403.40 L37.30 403.40Z" fill="#ffffff" stroke="#1e1e1e" stroke-width="1.0"/>
<path d="M46.46 394.94 L50.46 402.14 L42.46 402.14Z" fill="#ffffff" stroke="#1e1e1e" stroke-width="1.0"/>
<path d="M51.63 385.51 L55.63 392.71 L47.63 392.71Z" fill="#ffffff" stroke="#1e1e1e" stroke-width="1.0"/>
<path d="M56.80 359.72 L60.80 366.92 L52.80 366.92Z" fill="#ffffff" stroke="#1e1e1e" stroke-width="1.0"/>
<path d="M61.96 336.44 L65.96 343.64 L57.96 343.64Z" fill="#ffffff" stroke="#1e1e1e" stroke-width="1.0"/>
<path d="M67.12 318.20 L71.12 325.40 L63.12 325.40Z" fill="#ffffff" stroke="#1e1e1e" stroke-width="1.0"/>
<path d="M72.29 299.33 L76.29 306.53 L68.29 306.53Z" fill="#ffffff" stroke="#1e1e1e" stroke-width="1.0"/>
<path d="M77.45 291.03 L81.45 298.23 L73.45 298.23Z" fill="#ffffff" stroke="#1e1e1e" stroke-width="1.0"/>
<path d="M82.62 286.75 L86.62 293.95 L78.62 293.95Z" fill="#ffffff" stroke="#1e1e1e" stroke-width="1.0"/>
<path d="M87.78 284.87 L91.78 292.07 L83.78 292.07Z" fill="#ffffff" stroke="#1e1e1e" stroke-width="1.0"/>
<path d="M92.95 280.84 L96.95 288.04 L88.95 288.04Z" fill="#ffffff" stroke="#1e1e1e" stroke-width="1.0"/>
<path d="M98.11 278.83 L102.11 286.03 L94.11 286.03Z" fill="#ffffff" stroke="#1e1e1e" stroke-width="1.0"/>
<path d="M103.28 276.94 L107.28 284.14 L99.28 284.14Z" fill="#ffffff" stroke="#1e1e1e" stroke-width="1.0"/>
<path d="M108.44 276.06 L112.44 283.26 L104.44 283.26Z" fill="#ffffff" stroke="#1e1e1e" stroke-width="1.0"/>
<path d="M113.61 274.17 L117.61 281.37 L109.61 281.37Z" fill="#ffffff" stroke="#1e1e1e" stroke-width="1.0"/>
<path d="M118.77 272.92 L122.77 280.12 L114.77 280.12Z" fill="#ffffff" stroke="#1e1e1e" stroke-width="1.0"/>
<path d="M123.94 271.66 L127.94 278.86 L119.94 278.86Z" fill="#ffffff" stroke="#1e1e1e" stroke-width="1.0"/>
<path d="M129.11 271.28 L133.11 278.48 L125.11 278.48Z" fill="#ffffff" stroke="#1e1e1e" stroke-width="1.0"/>
<path d="M134.27 271.03 L138.27 278.23 L130.27 278.23Z" fill="#ffffff" stroke="#1e1e1e" stroke-width="1.0"/>
<path d="M139.44 270.78 L143.44 277.98 L135.44 277.98Z" fill="#ffffff" stroke="#1e1e1e" stroke-width="1.0"/>
<path d="M144.60 270.78 L148.60 277.98 L140.60 277.98Z" fill="#ffffff" stroke="#1e1e1e" stroke-width="1.0"/>
<path d="M149.76 270.78 L153.76 277.98 L145.76 277.98Z" fill="#ffffff" stroke="#1e1e1e" stroke-width="1.0"/>
<path d="M154.93 270.78 L158.93 277.98 L150.93 277.98Z" fill="#ffffff" stroke="#1e1e1e" stroke-width="1.0"/>
<path d="M160.09 270.78 L164.09 277.98 L156.09 277.98Z" fill="#ffffff" stroke="#1e1e1e" stroke-width="1.0"/>
<path d="M165.26 270.78 L169.26 277.98 L161.26 277.98Z" fill="#ffffff" stroke="#1e1e1e" stroke-width="1.0"/>
<path d="M170.43 270.15 L174.43 277.35 L166.43 277.35Z" fill="#ffffff" stroke="#1e1e1e" stroke-width="1.0"/>
<path d="M196.25 269.77 L200.25 276.97 L192.25 276.97Z" fill="#ffffff" stroke="#1e1e1e" stroke-width="1.0"/>
<path d="M41.30 400.20 L46.46 400.20 L51.63 396.17 L56.80 388.88 L61.96 378.81 L67.12 361.20 L72.29 350.38 L77.45 340.44 L82.62 332.65 L87.78 325.35 L92.95 314.91 L98.11 309.62 L103.28 301.70 L108.44 301.07 L113.61 297.04 L118.77 294.78 L123.94 291.26 L129.11 290.12 L134.27 286.98 L139.44 283.46 L144.60 282.95 L149.76 281.95 L154.93 281.95 L160.09 280.19 L165.26 279.43 L170.43 277.54 L196.25 274.40" fill="none" stroke="#666" stroke-width="0.9"/>
<circle cx="41.30" cy="400.20" r="3.2" fill="#d2d2d2" stroke="#1e1e1e" stroke-width="1.0"/>
<circle cx="46.46" cy="400.20" r="3.2" fill="#d2d2d2" stroke="#1e1e1e" stroke-width="1.0"/>
<circle cx="51.63" cy="396.17" r="3.2" fill="#d2d2d2" stroke="#1e1e1e" stroke-width="1.0"/>
<circle cx="56.80" cy="388.88" r="3.2" fill="#d2d2d2" stroke="#1e1e1e" stroke-width="1.0"/>
<circle cx="61.96" cy="378.81" r="3.2" fill="#d2d2d2" stroke="#1e1e1e" stroke-width="1.0"/>
<circle cx="67.12" cy="361.20" r="3.2" fill="#d2d2d2" stroke="#1e1e1e" stroke-width="1.0"/>
<circle cx="72.29" cy="350.38" r="3.2" fill="#d2d2d2" stroke="#1e1e1e" stroke-width="1.0"/>
<circle cx="77.45" cy="340.44" r="3.2" fill="#d2d2d2" stroke="#1e1e1e" stroke-width="1.0"/>
<circle cx="82.62" cy="332.65" r="3.2" fill="#d2d2d2" stroke="#1e1e1e" stroke-width="1.0"/>
<circle cx="87.78" cy="325.35" r="3.2" fill="#d2d2d2" stroke="#1e1e1e" stroke-width="1.0"/>
<circle cx="92.95" cy="314.91" r="3.2" fill="#d2d2d2" stroke="#1e1e1e" stroke-width="1.0"/>
<circle cx="98.11" cy="309.62" r="3.2" fill="#d2d2d2" stroke="#1e1e1e" stroke-width="1.0"/>
<circle cx="103.28" cy="301.70" r="3.2" fill="#d2d2d2" stroke="#1e1e1e" stroke-width="1.0"/>
<circle cx="108.44" cy="301.07" r="3.2" fill="#d2d2d2" stroke="#1e1e1e" stroke-width="1.0"/>
<circle cx="113.61" cy="297.04" r="3.2" fill="#d2d2d2" stroke="#1e1e1e" stroke-width="1.0"/>
<circle cx="118.77" cy="294.78" r="3.2" fill="#d2d2d2" stroke="#1e1e1e" stroke-width="1.0"/>
<circle cx="123.94" cy="291.26" r="3.2" fill="#d2d2d2" stroke="#1e1e1e" stroke-width="1.0"/>
<circle cx="129.11" cy="290.12" r="3.2" fill="#d2d2d2" stroke="#1e1e1e" stroke-width="1.0"/>
<circle cx="134.27" cy="286.98" r="3.2" fill="#d2d2d2" stroke="#1e1e1e" stroke-width="1.0"/>
<circle cx="139.44" cy="283.46" r="3.2" fill="#d2d2d2" stroke="#1e1e1e" stroke-width="1.0"/>
<circle cx="144.60" cy="282.95" r="3.2" fill="#d2d2d2" stroke="#1e1e1e" stroke-width="1.0"/>
<circle cx="149.76" cy="281.95" r="3.2" fill="#d2d2d2" stroke="#1e1e1e" stroke-width="1.0"/>
<circle cx="154.93" cy="281.95" r="3.2" fill="#d2d2d2" stroke="#1e1e1e" stroke-width="1.0"/>
<circle cx="160.09" cy="280.19" r="3.2" fill="#d2d2d2" stroke="#1e1e1e" stroke-width="1.0"/>
<circle cx="165.26" cy="279.43" r="3.2" fill="#d2d2d2" stroke="#1e1e1e" stroke-width="1.0"/>
<circle cx="170.43" cy="277.54" r="3.2" fill="#d2d2d2" stroke="#1e1e1e" stroke-width="1.0"/>
<circle cx="196.25" cy="274.40" r="3.2" fill="#d2d2d2" stroke="#1e1e1e" stroke-width="1.0"/>
<rect x="83.5" y="332" width="116" height="65" fill="#fff"/>
<line x1="81.20" y1="332.00" x2="81.20" y2="400.20" stroke="#707070" stroke-width="1.3"/>
<line x1="86.30" y1="338.80" x2="106.30" y2="338.80" stroke="#1e1e1e" stroke-width="1"/>
<circle cx="96.30" cy="338.80" r="3.4" fill="#000" stroke="#1e1e1e" stroke-width="1.0"/>
<text x="108.80" y="342.50" font-size="10.4" text-anchor="start" font-weight="normal" fill="#111" stroke="#111" stroke-width="0.25" textLength="52.30" lengthAdjust="spacing">WT (5/275)</text>
<line x1="86.30" y1="351.95" x2="106.30" y2="351.95" stroke="#666" stroke-width="1"/>
<path d="M96.30 349.05 L99.20 351.95 L96.30 354.85 L93.40 351.95Z" fill="#4a4a4a" stroke="#1e1e1e" stroke-width="1.0"/>
<text x="108.80" y="355.65" font-size="10.4" text-anchor="start" font-weight="normal" fill="#111" stroke="#111" stroke-width="0.25" textLength="79.20" lengthAdjust="spacing">ST3Gal-3<tspan font-size="6.5" dy="-4.8">&#8211;</tspan><tspan dy="4.8">&#8203;</tspan>(4/166)</text>
<line x1="86.30" y1="365.10" x2="106.30" y2="365.10" stroke="#666" stroke-width="1"/>
<path d="M96.30 362.00 L99.40 367.58 L93.20 367.58Z" fill="#6e6e6e" stroke="#1e1e1e" stroke-width="1.0"/>
<text x="108.80" y="368.80" font-size="10.4" text-anchor="start" font-weight="normal" fill="#111" stroke="#111" stroke-width="0.25" textLength="72.00" lengthAdjust="spacing">ST3Gal-4<tspan font-size="6.5" dy="-4.8">&#8211;</tspan><tspan dy="4.8">&#8203;</tspan>(4/20)</text>
<line x1="86.30" y1="377.95" x2="95.30" y2="377.95" stroke="#1e1e1e" stroke-width="1"/>
<line x1="97.60" y1="378.85" x2="106.30" y2="378.85" stroke="#1e1e1e" stroke-width="1"/>
<path d="M93.20 380.85 L98.40 380.85 L96.00 376.65" fill="none" stroke="#1e1e1e" stroke-width="1.0"/>
<text x="108.80" y="381.95" font-size="10.4" text-anchor="start" font-weight="normal" fill="#111" stroke="#111" stroke-width="0.25" textLength="79.20" lengthAdjust="spacing">ST3Gal-6<tspan font-size="6.5" dy="-4.8">&#8211;</tspan><tspan dy="4.8">&#8203;</tspan>(4/168)</text>
<line x1="86.30" y1="391.40" x2="106.30" y2="391.40" stroke="#777" stroke-width="1"/>
<circle cx="96.30" cy="391.40" r="3.4" fill="#d2d2d2" stroke="#1e1e1e" stroke-width="1.0"/>
<text x="108.80" y="395.10" font-size="10.4" text-anchor="start" font-weight="normal" fill="#111" stroke="#111" stroke-width="0.25" textLength="86.50" lengthAdjust="spacing">ST3Gal-4<tspan font-size="6.5" dy="-4.8">&#8211;</tspan><tspan dy="4.8">&#8203;</tspan>6<tspan font-size="6.5" dy="-4.8">&#8211;</tspan><tspan dy="4.8">&#8203;</tspan>(4/127)</text>
<line x1="219.50" y1="271.35" x2="219.50" y2="399.50" stroke="#2a2a2a" stroke-width="1"/>
<line x1="216.50" y1="399.50" x2="219.50" y2="399.50" stroke="#2a2a2a" stroke-width="1"/>
<line x1="216.50" y1="373.50" x2="219.50" y2="373.50" stroke="#2a2a2a" stroke-width="1"/>
<line x1="216.50" y1="348.50" x2="219.50" y2="348.50" stroke="#2a2a2a" stroke-width="1"/>
<line x1="216.50" y1="322.50" x2="219.50" y2="322.50" stroke="#2a2a2a" stroke-width="1"/>
<line x1="216.50" y1="297.50" x2="219.50" y2="297.50" stroke="#2a2a2a" stroke-width="1"/>
<line x1="216.50" y1="271.50" x2="219.50" y2="271.50" stroke="#2a2a2a" stroke-width="1"/>
<line x1="216.50" y1="399.50" x2="353.70" y2="399.50" stroke="#2a2a2a" stroke-width="1"/>
<line x1="219.50" y1="399.50" x2="219.50" y2="402.50" stroke="#2a2a2a" stroke-width="1"/>
<text x="219.70" y="416.80" font-size="10.4" text-anchor="middle" font-weight="normal" fill="#111" stroke="#111" stroke-width="0.25">0</text>
<line x1="263.50" y1="399.50" x2="263.50" y2="402.50" stroke="#2a2a2a" stroke-width="1"/>
<text x="263.70" y="416.80" font-size="10.4" text-anchor="middle" font-weight="normal" fill="#111" stroke="#111" stroke-width="0.25">5</text>
<line x1="308.50" y1="399.50" x2="308.50" y2="402.50" stroke="#2a2a2a" stroke-width="1"/>
<text x="308.70" y="416.80" font-size="10.4" text-anchor="middle" font-weight="normal" fill="#111" stroke="#111" stroke-width="0.25">10</text>
<line x1="353.50" y1="399.50" x2="353.50" y2="402.50" stroke="#2a2a2a" stroke-width="1"/>
<text x="353.70" y="416.80" font-size="10.4" text-anchor="middle" font-weight="normal" fill="#111" stroke="#111" stroke-width="0.25">15</text>
<line x1="219.10" y1="335.50" x2="238.30" y2="335.50" stroke="#2a2a2a" stroke-width="1"/>
<line x1="238.30" y1="335.50" x2="238.30" y2="399.10" stroke="#2a2a2a" stroke-width="1"/>
<path d="M219.10 399.10 L228.04 378.10 L236.98 333.95 L245.92 306.21 L254.86 295.01 L263.80 285.85 L272.74 282.03 L281.68 276.30 L290.62 274.90 L299.56 271.09 L308.50 271.09 L317.44 271.09" fill="none" stroke="#1e1e1e" stroke-width="0.9"/>
<circle cx="219.10" cy="399.10" r="3.2" fill="#000" stroke="#1e1e1e" stroke-width="1.0"/>
<circle cx="228.04" cy="378.10" r="3.2" fill="#000" stroke="#1e1e1e" stroke-width="1.0"/>
<circle cx="236.98" cy="333.95" r="3.2" fill="#000" stroke="#1e1e1e" stroke-width="1.0"/>
<circle cx="245.92" cy="306.21" r="3.2" fill="#000" stroke="#1e1e1e" stroke-width="1.0"/>
<circle cx="254.86" cy="295.01" r="3.2" fill="#000" stroke="#1e1e1e" stroke-width="1.0"/>
<circle cx="263.80" cy="285.85" r="3.2" fill="#000" stroke="#1e1e1e" stroke-width="1.0"/>
<circle cx="272.74" cy="282.03" r="3.2" fill="#000" stroke="#1e1e1e" stroke-width="1.0"/>
<circle cx="281.68" cy="276.30" r="3.2" fill="#000" stroke="#1e1e1e" stroke-width="1.0"/>
<circle cx="290.62" cy="274.90" r="3.2" fill="#000" stroke="#1e1e1e" stroke-width="1.0"/>
<circle cx="299.56" cy="271.09" r="3.2" fill="#000" stroke="#1e1e1e" stroke-width="1.0"/>
<circle cx="308.50" cy="271.09" r="3.2" fill="#000" stroke="#1e1e1e" stroke-width="1.0"/>
<circle cx="317.44" cy="271.09" r="3.2" fill="#000" stroke="#1e1e1e" stroke-width="1.0"/>
<path d="M219.10 399.10 L228.04 380.52 L236.98 340.95 L245.92 300.74 L254.86 290.56 L263.80 282.54 L272.74 282.54 L281.68 282.54 L290.62 282.28 L299.56 275.03 L308.50 275.03 L317.44 275.03 L326.38 271.34 L335.32 271.34 L344.26 271.34 L353.20 271.34" fill="none" stroke="#1e1e1e" stroke-width="0.9"/>
<rect x="215.80" y="395.80" width="6.60" height="6.60" fill="#fff" stroke="#1e1e1e" stroke-width="1.0"/>
<rect x="224.74" y="377.22" width="6.60" height="6.60" fill="#fff" stroke="#1e1e1e" stroke-width="1.0"/>
<rect x="233.68" y="337.65" width="6.60" height="6.60" fill="#fff" stroke="#1e1e1e" stroke-width="1.0"/>
<rect x="242.62" y="297.44" width="6.60" height="6.60" fill="#fff" stroke="#1e1e1e" stroke-width="1.0"/>
<rect x="251.56" y="287.26" width="6.60" height="6.60" fill="#fff" stroke="#1e1e1e" stroke-width="1.0"/>
<rect x="260.50" y="279.24" width="6.60" height="6.60" fill="#fff" stroke="#1e1e1e" stroke-width="1.0"/>
<rect x="269.44" y="279.24" width="6.60" height="6.60" fill="#fff" stroke="#1e1e1e" stroke-width="1.0"/>
<rect x="278.38" y="279.24" width="6.60" height="6.60" fill="#fff" stroke="#1e1e1e" stroke-width="1.0"/>
<rect x="287.32" y="278.98" width="6.60" height="6.60" fill="#fff" stroke="#1e1e1e" stroke-width="1.0"/>
<rect x="296.26" y="271.73" width="6.60" height="6.60" fill="#fff" stroke="#1e1e1e" stroke-width="1.0"/>
<rect x="305.20" y="271.73" width="6.60" height="6.60" fill="#fff" stroke="#1e1e1e" stroke-width="1.0"/>
<rect x="314.14" y="271.73" width="6.60" height="6.60" fill="#fff" stroke="#1e1e1e" stroke-width="1.0"/>
<rect x="323.08" y="268.04" width="6.60" height="6.60" fill="#fff" stroke="#1e1e1e" stroke-width="1.0"/>
<rect x="332.02" y="268.04" width="6.60" height="6.60" fill="#fff" stroke="#1e1e1e" stroke-width="1.0"/>
<rect x="340.96" y="268.04" width="6.60" height="6.60" fill="#fff" stroke="#1e1e1e" stroke-width="1.0"/>
<rect x="349.90" y="268.04" width="6.60" height="6.60" fill="#fff" stroke="#1e1e1e" stroke-width="1.0"/>
<line x1="256.30" y1="376.00" x2="277.50" y2="376.00" stroke="#2a2a2a" stroke-width="1"/>
<circle cx="265.90" cy="376.00" r="3.5" fill="#000" stroke="#1e1e1e" stroke-width="1.0"/>
<text x="279.20" y="380.00" font-size="10.4" text-anchor="start" font-weight="normal" fill="#111" stroke="#111" stroke-width="0.25" textLength="51.40" lengthAdjust="spacing">WT(4/165)</text>
<line x1="256.30" y1="391.00" x2="277.50" y2="391.00" stroke="#2a2a2a" stroke-width="1"/>
<rect x="262.40" y="387.50" width="7.00" height="7.00" fill="#fff" stroke="#1e1e1e" stroke-width="1.0"/>
<text x="279.20" y="395.00" font-size="10.4" text-anchor="start" font-weight="normal" fill="#111" stroke="#111" stroke-width="0.25" textLength="77.20" lengthAdjust="spacing">WT+KPL1(3/21)</text>
<text x="285.00" y="435.00" font-size="9.8" text-anchor="middle" font-weight="bold" fill="#111" stroke="#111" stroke-width="0.3" textLength="111.00" lengthAdjust="spacing">Rolling velocity (&#181;m/s)</text>
<line x1="383.50" y1="270.40" x2="383.50" y2="400.50" stroke="#2a2a2a" stroke-width="1"/>
<line x1="380.50" y1="400.50" x2="383.50" y2="400.50" stroke="#2a2a2a" stroke-width="1"/>
<line x1="380.50" y1="374.50" x2="383.50" y2="374.50" stroke="#2a2a2a" stroke-width="1"/>
<line x1="380.50" y1="348.50" x2="383.50" y2="348.50" stroke="#2a2a2a" stroke-width="1"/>
<line x1="380.50" y1="322.50" x2="383.50" y2="322.50" stroke="#2a2a2a" stroke-width="1"/>
<line x1="380.50" y1="296.50" x2="383.50" y2="296.50" stroke="#2a2a2a" stroke-width="1"/>
<line x1="380.50" y1="270.50" x2="383.50" y2="270.50" stroke="#2a2a2a" stroke-width="1"/>
<line x1="380.50" y1="400.50" x2="497.70" y2="400.50" stroke="#2a2a2a" stroke-width="1"/>
<line x1="384.50" y1="400.50" x2="384.50" y2="403.50" stroke="#2a2a2a" stroke-width="1"/>
<text x="384.70" y="416.80" font-size="10.4" text-anchor="middle" font-weight="normal" fill="#111" stroke="#111" stroke-width="0.25">0</text>
<line x1="412.50" y1="400.50" x2="412.50" y2="403.50" stroke="#2a2a2a" stroke-width="1"/>
<text x="412.70" y="416.80" font-size="10.4" text-anchor="middle" font-weight="normal" fill="#111" stroke="#111" stroke-width="0.25">5</text>
<line x1="440.50" y1="400.50" x2="440.50" y2="403.50" stroke="#2a2a2a" stroke-width="1"/>
<text x="440.70" y="416.80" font-size="10.4" text-anchor="middle" font-weight="normal" fill="#111" stroke="#111" stroke-width="0.25">10</text>
<line x1="468.50" y1="400.50" x2="468.50" y2="403.50" stroke="#2a2a2a" stroke-width="1"/>
<text x="468.70" y="416.80" font-size="10.4" text-anchor="middle" font-weight="normal" fill="#111" stroke="#111" stroke-width="0.25">15</text>
<line x1="497.50" y1="400.50" x2="497.50" y2="403.50" stroke="#2a2a2a" stroke-width="1"/>
<text x="497.70" y="416.80" font-size="10.4" text-anchor="middle" font-weight="normal" fill="#111" stroke="#111" stroke-width="0.25">20</text>
<line x1="383.90" y1="335.50" x2="416.50" y2="335.50" stroke="#2a2a2a" stroke-width="1"/>
<line x1="403.50" y1="335.50" x2="403.50" y2="400.50" stroke="#2a2a2a" stroke-width="1"/>
<line x1="416.50" y1="335.50" x2="416.50" y2="400.50" stroke="#2a2a2a" stroke-width="1"/>
<path d="M384.00 400.50 L389.66 400.50 L395.32 377.69 L400.98 337.26 L406.64 320.15 L412.30 303.43 L417.96 298.50 L423.62 290.60 L429.28 283.34 L434.94 281.53 L440.60 278.16 L497.20 270.90" fill="none" stroke="#1e1e1e" stroke-width="0.9"/>
<circle cx="384.00" cy="400.50" r="3.2" fill="#000" stroke="#1e1e1e" stroke-width="1.0"/>
<circle cx="389.66" cy="400.50" r="3.2" fill="#000" stroke="#1e1e1e" stroke-width="1.0"/>
<circle cx="395.32" cy="377.69" r="3.2" fill="#000" stroke="#1e1e1e" stroke-width="1.0"/>
<circle cx="400.98" cy="337.26" r="3.2" fill="#000" stroke="#1e1e1e" stroke-width="1.0"/>
<circle cx="406.64" cy="320.15" r="3.2" fill="#000" stroke="#1e1e1e" stroke-width="1.0"/>
<circle cx="412.30" cy="303.43" r="3.2" fill="#000" stroke="#1e1e1e" stroke-width="1.0"/>
<circle cx="417.96" cy="298.50" r="3.2" fill="#000" stroke="#1e1e1e" stroke-width="1.0"/>
<circle cx="423.62" cy="290.60" r="3.2" fill="#000" stroke="#1e1e1e" stroke-width="1.0"/>
<circle cx="429.28" cy="283.34" r="3.2" fill="#000" stroke="#1e1e1e" stroke-width="1.0"/>
<circle cx="434.94" cy="281.53" r="3.2" fill="#000" stroke="#1e1e1e" stroke-width="1.0"/>
<circle cx="440.60" cy="278.16" r="3.2" fill="#000" stroke="#1e1e1e" stroke-width="1.0"/>
<circle cx="497.20" cy="270.90" r="3.2" fill="#000" stroke="#1e1e1e" stroke-width="1.0"/>
<path d="M384.00 400.50 L389.66 400.50 L395.32 398.69 L400.98 384.30 L406.64 361.62 L412.30 339.98 L417.96 329.87 L423.62 319.50 L429.28 309.78 L434.94 301.62 L440.60 294.23 L497.20 270.25" fill="none" stroke="#1e1e1e" stroke-width="0.9"/>
<path d="M384.00 396.60 L387.90 400.50 L384.00 404.40 L380.10 400.50Z" fill="#555555" stroke="#1e1e1e" stroke-width="1.0"/>
<path d="M389.66 396.60 L393.56 400.50 L389.66 404.40 L385.76 400.50Z" fill="#555555" stroke="#1e1e1e" stroke-width="1.0"/>
<path d="M395.32 394.79 L399.22 398.69 L395.32 402.59 L391.42 398.69Z" fill="#555555" stroke="#1e1e1e" stroke-width="1.0"/>
<path d="M400.98 380.40 L404.88 384.30 L400.98 388.20 L397.08 384.30Z" fill="#555555" stroke="#1e1e1e" stroke-width="1.0"/>
<path d="M406.64 357.72 L410.54 361.62 L406.64 365.52 L402.74 361.62Z" fill="#555555" stroke="#1e1e1e" stroke-width="1.0"/>
<path d="M412.30 336.08 L416.20 339.98 L412.30 343.88 L408.40 339.98Z" fill="#555555" stroke="#1e1e1e" stroke-width="1.0"/>
<path d="M417.96 325.97 L421.86 329.87 L417.96 333.77 L414.06 329.87Z" fill="#555555" stroke="#1e1e1e" stroke-width="1.0"/>
<path d="M423.62 315.60 L427.52 319.50 L423.62 323.40 L419.72 319.50Z" fill="#555555" stroke="#1e1e1e" stroke-width="1.0"/>
<path d="M429.28 305.88 L433.18 309.78 L429.28 313.68 L425.38 309.78Z" fill="#555555" stroke="#1e1e1e" stroke-width="1.0"/>
<path d="M434.94 297.72 L438.84 301.62 L434.94 305.52 L431.04 301.62Z" fill="#555555" stroke="#1e1e1e" stroke-width="1.0"/>
<path d="M440.60 290.33 L444.50 294.23 L440.60 298.13 L436.70 294.23Z" fill="#555555" stroke="#1e1e1e" stroke-width="1.0"/>
<path d="M497.20 266.35 L501.10 270.25 L497.20 274.15 L493.30 270.25Z" fill="#555555" stroke="#1e1e1e" stroke-width="1.0"/>
<rect x="412" y="362" width="107" height="36" fill="#fff"/>
<line x1="416.50" y1="362.00" x2="416.50" y2="400.50" stroke="#2a2a2a" stroke-width="1"/>
<line x1="414.40" y1="371.30" x2="435.00" y2="371.30" stroke="#2a2a2a" stroke-width="1"/>
<circle cx="423.90" cy="371.30" r="3.2" fill="#000" stroke="#1e1e1e" stroke-width="1.0"/>
<text x="436.90" y="374.70" font-size="10.4" text-anchor="start" font-weight="normal" fill="#111" stroke="#111" stroke-width="0.25" textLength="44.10" lengthAdjust="spacing">WT(3/79)</text>
<line x1="414.40" y1="389.60" x2="435.00" y2="389.60" stroke="#2a2a2a" stroke-width="1"/>
<path d="M424.00 386.20 L427.40 389.60 L424.00 393.00 L420.60 389.60Z" fill="#555555" stroke="#1e1e1e" stroke-width="1.0"/>
<text x="436.50" y="393.30" font-size="10.4" text-anchor="start" font-weight="normal" fill="#111" stroke="#111" stroke-width="0.25" textLength="45.80" lengthAdjust="spacing">ST3Gal-4</text>
<text x="482.00" y="384.90" font-size="8.5" text-anchor="start" font-weight="normal" fill="#111" stroke="#111" stroke-width="0.25" textLength="7.80" lengthAdjust="spacing">-/-</text>
<text x="491.40" y="393.30" font-size="10.4" text-anchor="start" font-weight="normal" fill="#111" stroke="#111" stroke-width="0.25" textLength="27.70" lengthAdjust="spacing">(5/75)</text>
</svg>
</div></body></html>
